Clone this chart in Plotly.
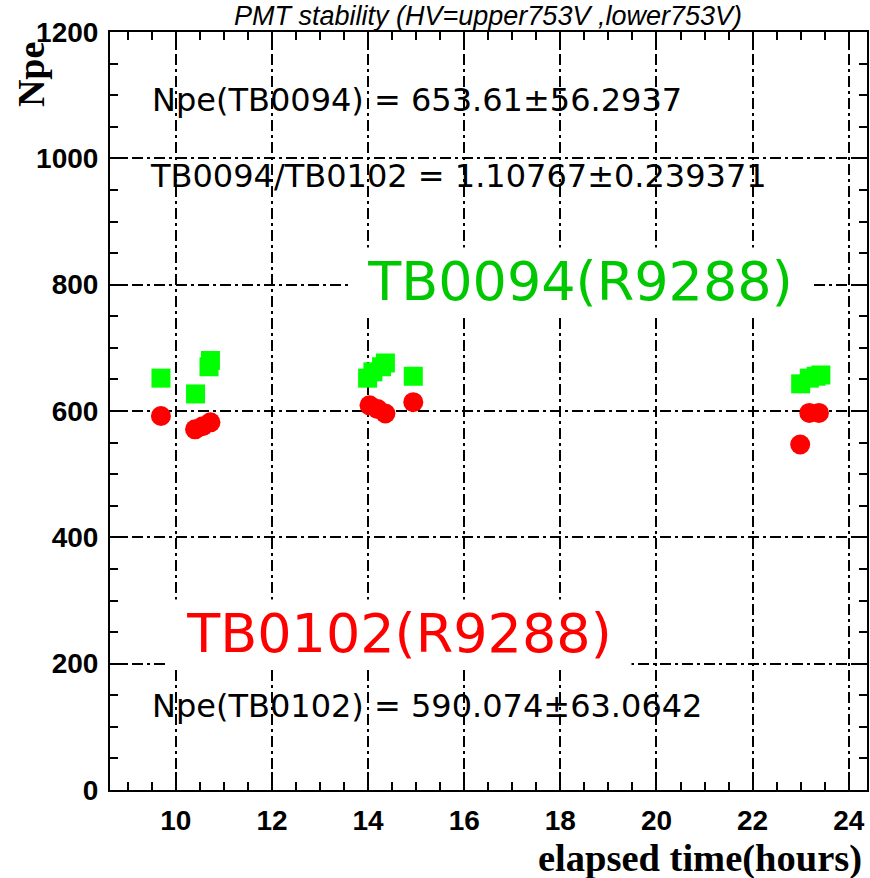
import plotly.graph_objects as go

# TB0094 (green squares)
tb0094_x = [9.69, 10.41, 10.69, 10.72, 13.99, 14.10, 14.28, 14.36, 14.94, 23.00, 23.18, 23.32, 23.42]
tb0094_y = [652, 627, 670, 680, 652, 662, 670, 676, 655, 643, 652, 655, 657]
# TB0102 (red circles)
tb0102_x = [9.69, 10.40, 10.56, 10.72, 14.03, 14.20, 14.36, 14.94, 22.99, 23.18, 23.38]
tb0102_y = [592, 571, 576, 582, 609, 603, 596, 614, 547, 597, 597]

x_ticks = [10, 12, 14, 16, 18, 20, 22, 24]
y_ticks = [0, 200, 400, 600, 800, 1000, 1200]
x_range = [8.63, 24.38]
y_range = [0, 1200]

title_text = "PMT stability (HV=upper753V ,lower753V)"
label_top = "Npe(TB0094) = 653.61\u00b156.2937"
label_ratio = "TB0094/TB0102 = 1.10767\u00b10.239371"
label_bottom = "Npe(TB0102) = 590.074\u00b163.0642"
name_green = "TB0094(R9288)"
name_red = "TB0102(R9288)"

fig = go.Figure()
fig.add_trace(go.Scatter(x=tb0094_x, y=tb0094_y, mode="markers",
                         marker=dict(symbol="square", size=19, color="#00ff00"),
                         showlegend=False))
fig.add_trace(go.Scatter(x=tb0102_x, y=tb0102_y, mode="markers",
                         marker=dict(symbol="circle", size=20, color="#ff0000"),
                         showlegend=False))

axis_common = dict(
    showline=True, linecolor="black", linewidth=2, mirror="ticks",
    ticks="inside", tickcolor="black", tickwidth=1.5,
    showgrid=True, gridcolor="black", gridwidth=1.6, griddash="11px,4px,3px,4px",
    zeroline=False,
    tickfont=dict(family="Liberation Sans", size=28, color="black", weight="bold"),
)

fig.update_xaxes(range=x_range, tickvals=x_ticks, ticklen=18,
                 minor=dict(dtick=0.5, tick0=0, ticklen=8, ticks="inside", tickcolor="black", tickwidth=1.5, showgrid=False),
                 ticklabelstandoff=4, **axis_common)
fig.update_yaxes(range=y_range, tickvals=y_ticks, ticklen=16,
                 minor=dict(dtick=50, tick0=0, ticklen=8, ticks="inside", tickcolor="black", tickwidth=1.5, showgrid=False),
                 ticklabelstandoff=4, **axis_common)

small_font = dict(family="DejaVu Sans", size=32, color="black")
big_font_g = dict(family="DejaVu Sans", size=54, color="#00c800")
big_font_r = dict(family="DejaVu Sans", size=54, color="#ff0000")

annotations = [
    dict(text=title_text, x=0.4993, y=1.021, xref="paper", yref="paper", xanchor="center", yanchor="middle",
         showarrow=False, font=dict(family="Liberation Sans", size=27, color="black", style="italic")),
    dict(text="Npe", x=-0.104, y=0.989, xref="paper", yref="paper", xanchor="center", yanchor="top",
         textangle=-90, showarrow=False, font=dict(family="Liberation Serif", size=38, color="black", weight="bold")),
    dict(text="elapsed time(hours)", x=0.996, y=-0.091, xref="paper", yref="paper", xanchor="right", yanchor="middle",
         showarrow=False, font=dict(family="Liberation Serif", size=38.5, color="black", weight="bold")),
    dict(text=label_top, x=0.0527, y=0.910, xref="paper", yref="paper", xanchor="left", yanchor="middle",
         showarrow=False, font=small_font),
    dict(text=label_ratio, x=0.050, y=0.810, xref="paper", yref="paper", xanchor="left", yanchor="middle",
         showarrow=False, font=small_font),
    dict(text=label_bottom, x=0.0527, y=0.111, xref="paper", yref="paper", xanchor="left", yanchor="middle",
         showarrow=False, font=small_font),
    dict(text="\u00a0" + name_green + "\u00a0", x=0.622, y=0.6715, xref="paper", yref="paper", xanchor="center", yanchor="middle",
         showarrow=False, font=big_font_g, bgcolor="white", borderpad=2),
    dict(text="\u00a0" + name_red + "\u00a0", x=0.382, y=0.206, xref="paper", yref="paper", xanchor="center", yanchor="middle",
         showarrow=False, font=big_font_r, bgcolor="white", borderpad=2),
]

fig.update_layout(
    width=870, height=878,
    margin=dict(l=110, r=1, t=32, b=88),
    paper_bgcolor="white", plot_bgcolor="white",
    annotations=annotations,
    showlegend=False,
)

fig.write_html("out.html")
